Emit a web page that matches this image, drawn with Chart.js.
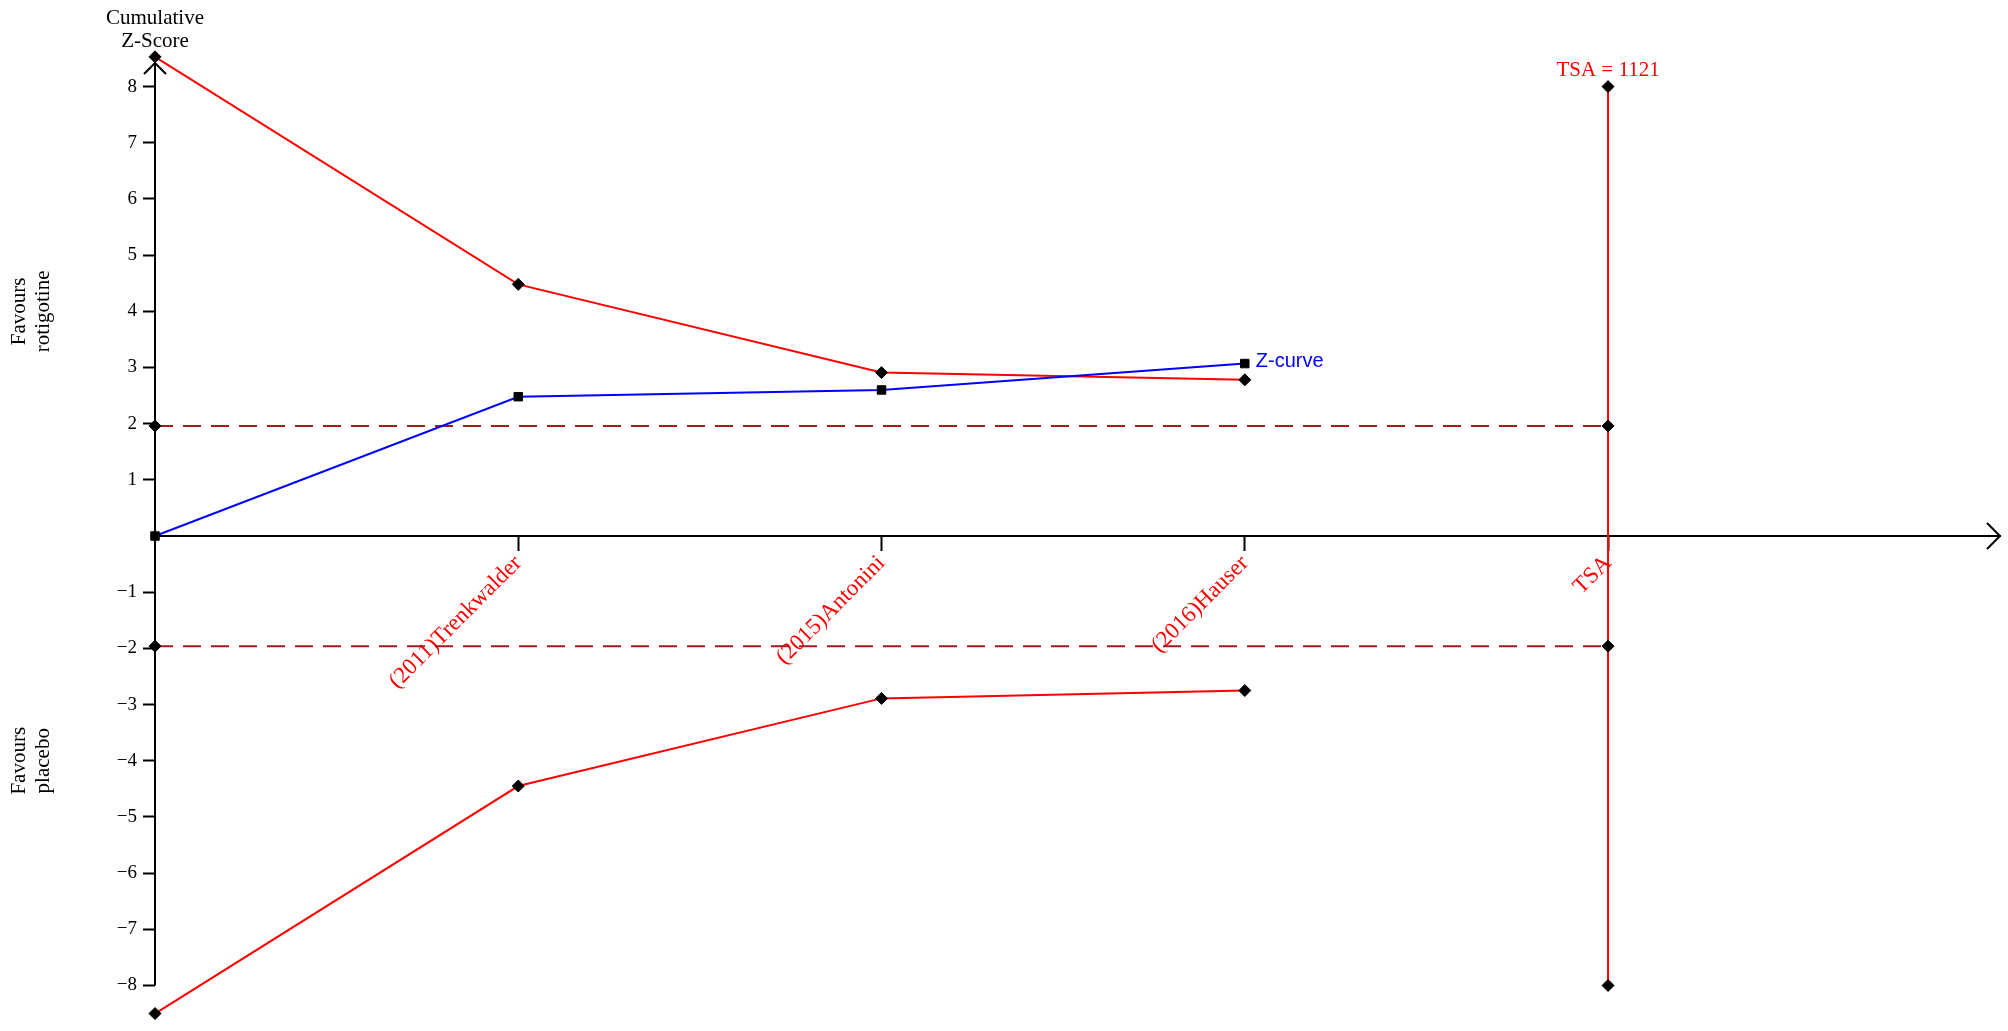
<!DOCTYPE html>
<html>
<head>
<meta charset="utf-8">
<title>TSA - rotigotine vs placebo</title>
<script src="https://cdn.jsdelivr.net/npm/chart.js@4.4.1/dist/chart.umd.min.js"></script>
<style>
    html, body { margin: 0; padding: 0; background: #fff; }
    #wrap { width: 2008px; height: 1031px; }
</style>
</head>
<body>
<div id="wrap"><canvas id="tsaChart" width="2008" height="1031"></canvas></div>
<script>
// Datos: posición de cada estudio en el eje X (0 = origen, 4 = TSA)
const studyPos = [0, 1, 2, 3];
const zCurve = [0, 2.48, 2.60, 3.07];
const upperBoundary = [8.53, 4.48, 2.91, 2.78];
const lowerBoundary = [-8.5, -4.45, -2.89, -2.75];

const tsaPos = 4;
const tsaSize = 1121;
const tsaRange = [8, -8];
const conventional = [1.96, -1.96];

const xTicks = [1, 2, 3, 4];
const xTickLabels = ['(2011)Trenkwalder', '(2015)Antonini', '(2016)Hauser', 'TSA'];
const yTicks = [8, 7, 6, 5, 4, 3, 2, 1, -1, -2, -3, -4, -5, -6, -7, -8];

const RED = '#ff0000';
const BLUE = '#0000ff';
const DASH = '#a51c1c';
const SERIF = '"Liberation Serif", "Times New Roman", serif';

const toPoints = (xs, ys) => xs.map((x, i) => ({ x: x, y: ys[i] }));

const diamond = {
    pointStyle: 'rectRot', pointRadius: 6, pointHoverRadius: 6,
    pointBackgroundColor: '#000', pointBorderColor: '#000', pointBorderWidth: 1
};
const square = {
    pointStyle: 'rect', pointRadius: 6, pointHoverRadius: 6,
    pointBackgroundColor: '#000', pointBorderColor: '#000', pointBorderWidth: 1
};

const decor = {
    id: 'decor',
    beforeDatasetsDraw(chart) {
        const { ctx, chartArea, scales: { x, y } } = chart;
        const x0 = x.getPixelForValue(0);
        const y0 = y.getPixelForValue(0);
        const yTop = chartArea.top;
        ctx.save();
        ctx.strokeStyle = '#000';
        ctx.lineWidth = 2;
        // eje Y (de -8 hasta la flecha)
        ctx.beginPath();
        ctx.moveTo(x0, y.getPixelForValue(yTicks[yTicks.length - 1]));
        ctx.lineTo(x0, yTop);
        ctx.stroke();
        // flechas de los ejes
        ctx.beginPath();
        ctx.moveTo(x0 - 11, yTop + 11);
        ctx.lineTo(x0, yTop);
        ctx.lineTo(x0 + 11, yTop + 11);
        ctx.stroke();
        ctx.beginPath();
        ctx.moveTo(chartArea.right - 13, y0 - 13);
        ctx.lineTo(chartArea.right, y0);
        ctx.lineTo(chartArea.right - 13, y0 + 13);
        ctx.stroke();
        ctx.restore();
    },
    afterDraw(chart) {
        const { ctx, scales: { x, y } } = chart;
        const x0 = x.getPixelForValue(0);
        ctx.save();
        ctx.fillStyle = '#000';
        ctx.font = '21px ' + SERIF;
        ctx.textAlign = 'center';
        ctx.textBaseline = 'middle';
        ctx.fillText('Cumulative', x0, 18);
        ctx.fillText('Z-Score', x0, 41);

        const side = (lines, value) => {
            const cy = y.getPixelForValue(value);
            ctx.textBaseline = 'alphabetic';
            [25, 49].forEach((bx, i) => {
                ctx.save();
                ctx.translate(bx, cy);
                ctx.rotate(-Math.PI / 2);
                ctx.fillText(lines[i], 0, 0);
                ctx.restore();
            });
        };
        side(['Favours', 'rotigotine'], 4);
        side(['Favours', 'placebo'], -4);

        ctx.fillStyle = RED;
        ctx.textBaseline = 'alphabetic';
        ctx.fillText('TSA = ' + tsaSize, x.getPixelForValue(tsaPos), y.getPixelForValue(tsaRange[0]) - 11);

        const last = zCurve.length - 1;
        ctx.fillStyle = BLUE;
        ctx.font = '20px "Liberation Sans", Arial, sans-serif';
        ctx.textAlign = 'left';
        ctx.textBaseline = 'middle';
        ctx.fillText('Z-curve', x.getPixelForValue(studyPos[last]) + 11, y.getPixelForValue(zCurve[last]) - 2);
        ctx.restore();
    }
};

const ctx = document.getElementById('tsaChart').getContext('2d');
new Chart(ctx, {
    type: 'line',
    data: {
        datasets: [
            Object.assign({ data: toPoints(studyPos, zCurve), borderColor: BLUE, borderWidth: 2 }, square),
            Object.assign({ data: toPoints(studyPos, upperBoundary), borderColor: RED, borderWidth: 2 }, diamond),
            Object.assign({ data: toPoints(studyPos, lowerBoundary), borderColor: RED, borderWidth: 2 }, diamond),
            Object.assign({ data: toPoints([0, tsaPos], [conventional[0], conventional[0]]), borderColor: DASH, borderWidth: 2, borderDash: [18, 10] }, diamond),
            Object.assign({ data: toPoints([0, tsaPos], [conventional[1], conventional[1]]), borderColor: DASH, borderWidth: 2, borderDash: [18, 10] }, diamond),
            Object.assign({ data: toPoints([tsaPos, tsaPos], tsaRange), borderColor: RED, borderWidth: 2 }, diamond)
        ].map(d => Object.assign(d, { fill: false, tension: 0, clip: false }))
    },
    options: {
        responsive: false,
        animation: false,
        devicePixelRatio: 1,
        layout: { padding: { left: 95, top: 63, right: 8, bottom: 18 } },
        plugins: { legend: { display: false }, tooltip: { enabled: false } },
        scales: {
            x: {
                type: 'linear',
                min: 0,
                max: 5.079,
                position: { y: 0 },
                afterBuildTicks: s => { s.ticks = xTicks.map(v => ({ value: v })); },
                grid: { drawOnChartArea: false, drawTicks: true, tickLength: 14, tickWidth: 2, tickColor: '#000' },
                border: { display: true, color: '#000', width: 2 },
                ticks: {
                    autoSkip: false,
                    minRotation: 45,
                    maxRotation: 45,
                    padding: 0,
                    color: RED,
                    font: { family: SERIF, size: 23 },
                    callback: (v, i) => xTickLabels[i]
                }
            },
            y: {
                type: 'linear',
                min: -8.49,
                max: 8.42,
                position: 'left',
                afterBuildTicks: s => { s.ticks = yTicks.map(v => ({ value: v })); },
                afterFit: s => { s.width = 60; },
                grid: { drawOnChartArea: false, drawTicks: true, tickLength: 12, tickWidth: 2, tickColor: '#000' },
                border: { display: false },
                ticks: {
                    padding: 6,
                    color: '#000',
                    font: { family: SERIF, size: 19 },
                    callback: v => String(v).replace('-', '\u2212')
                }
            }
        }
    },
    plugins: [decor]
});
</script>
</body>
</html>
